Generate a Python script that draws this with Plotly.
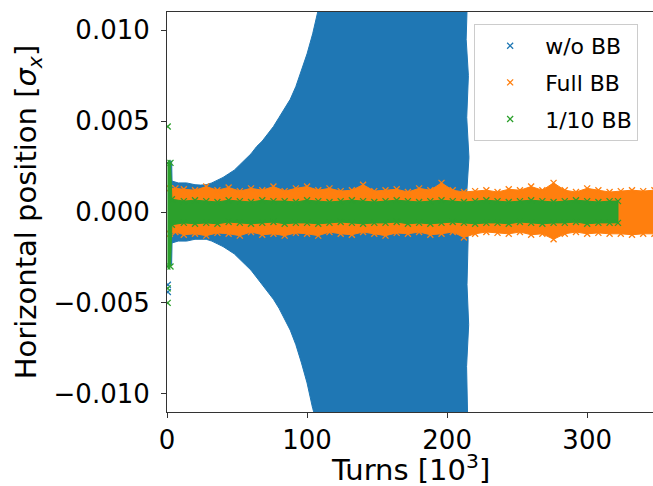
import plotly.graph_objects as go

# ---------------- data ----------------
# x in thousands of turns, y in units of sigma_x (band envelopes)
series_names = ["w/o BB", "Full BB", "1/10 BB"]
series_colors = ["#1f77b4", "#ff7f0e", "#2ca02c"]

blue_turns = [0.8, 3.3, 3.6, 8, 14, 20, 24, 28, 32, 36, 40, 44, 48, 52, 56, 60, 64, 68,
              72, 76, 80, 84, 88, 92, 96, 100, 104, 108]
blue_upper = [0.0028, 0.0028, 0.0017, 0.0016, 0.0016, 0.0015, 0.00148, 0.0015, 0.0016, 0.00175,
              0.0019, 0.0021, 0.0023, 0.0026, 0.0029, 0.0032, 0.0036, 0.0039,
              0.0043, 0.0047, 0.0052, 0.0057, 0.0062, 0.0069, 0.0078, 0.0087, 0.0098, 0.0112]
blue_lower = [-0.0029, -0.0029, -0.0017, -0.0016, -0.0016, -0.0015, -0.00148, -0.0015, -0.0016, -0.00175,
              -0.0019, -0.0021, -0.0023, -0.0026, -0.0029, -0.0032, -0.0036, -0.0040,
              -0.0044, -0.0048, -0.0053, -0.0059, -0.0065, -0.0073, -0.0083, -0.0094, -0.0108, -0.0118]
# ragged right end of the blue band (top to bottom)
blue_edge_turns = [110, 214.5, 213.6, 215.2, 214.0, 215.6, 213.8, 215.0, 214.2, 215.4, 213.9, 214.8]
blue_edge_pos = [0.0118, 0.0118, 0.0095, 0.0075, 0.0052, 0.0030, 0.0008, -0.0015, -0.0040, -0.0062, -0.0085, -0.0118]
blue_extra_turns = [0.6, 0.6]
blue_extra_pos = [-0.0040, -0.0044]

orange_turns = [2, 6, 12, 20, 28, 36, 44, 52, 60, 68, 76, 84, 92, 100,
                108, 116, 124, 132, 140, 148, 156, 164, 172, 180, 188, 196, 204, 212,
                220, 228, 236, 244, 252, 260, 268, 276, 284, 292, 300, 308, 316, 324,
                332, 340, 348]
orange_upper = [0.0013, 0.0013, 0.00125, 0.0012, 0.0014,
                0.0012, 0.00135, 0.00115, 0.0013, 0.0012,
                0.0014, 0.00115, 0.0013, 0.0014, 0.0012,
                0.0013, 0.00115, 0.0012, 0.0015, 0.00115,
                0.0012, 0.00125, 0.0011, 0.0013, 0.0012,
                0.0016, 0.0012, 0.0011, 0.00115, 0.0012,
                0.0011, 0.00125, 0.0012, 0.0014, 0.0012,
                0.0016, 0.0012, 0.0011, 0.0013, 0.0012,
                0.0011, 0.00115, 0.0012, 0.00115, 0.0012]
orange_lower = [-0.0012, -0.0011, -0.00125, -0.0012, -0.0013,
                -0.00115, -0.0012, -0.0013, -0.0011, -0.00125,
                -0.0012, -0.0013, -0.00115, -0.0012, -0.0013,
                -0.0011, -0.0012, -0.00125, -0.0011, -0.0012,
                -0.0013, -0.00115, -0.0012, -0.0011, -0.00125,
                -0.0012, -0.0011, -0.0014, -0.0012, -0.0011,
                -0.00115, -0.0012, -0.0011, -0.00125, -0.0012,
                -0.0015, -0.0012, -0.0011, -0.0012, -0.00115,
                -0.0012, -0.0012, -0.00125, -0.0012, -0.0012]

green_turns = [0.3, 2.5, 3.5, 12, 20, 28, 36, 44, 52, 60, 68, 76, 84, 92, 100,
               108, 116, 124, 132, 140, 148, 156, 164, 172, 180, 188, 196, 204, 212,
               220, 228, 236, 244, 252, 260, 268, 276, 284, 292, 300, 308, 316, 322]
green_upper = [0.0027, 0.0027, 0.0007, 0.0006, 0.00065,
               0.0006, 0.00055, 0.00065, 0.0006, 0.00055,
               0.00065, 0.0006, 0.0006, 0.00055, 0.00065,
               0.0006, 0.00055, 0.0006, 0.00065, 0.0006,
               0.00055, 0.0006, 0.00065, 0.0006, 0.00055,
               0.0006, 0.00065, 0.0006, 0.00055, 0.0006,
               0.00065, 0.0006, 0.00055, 0.0006, 0.00065,
               0.0006, 0.00055, 0.0006, 0.00065, 0.0006,
               0.00055, 0.0006, 0.0006]
green_lower = [-0.0030, -0.0030, -0.0007, -0.0006, -0.00065,
               -0.0006, -0.00065, -0.00055, -0.0006, -0.00065,
               -0.0006, -0.00055, -0.00065, -0.0006, -0.0006,
               -0.00065, -0.0006, -0.00055, -0.0006, -0.00065,
               -0.0006, -0.0006, -0.00055, -0.00065, -0.0006,
               -0.00065, -0.0006, -0.00055, -0.0006, -0.00065,
               -0.0006, -0.0006, -0.00065, -0.00055, -0.0006,
               -0.00065, -0.0006, -0.0006, -0.00055, -0.00065,
               -0.0006, -0.0006, -0.0006]
green_extra_turns = [0.5, 0.5, 0.5]
green_extra_pos = [0.0047, -0.0042, -0.0050]

x_ticks = [0, 100, 200, 300]
y_ticks = [-0.010, -0.005, 0.000, 0.005, 0.010]
y_tick_labels = ["\u22120.010", "\u22120.005", "0.000", "0.005", "0.010"]
x_title = "Turns [10<sup>3</sup>]"
y_title = "Horizontal position [<i>σ<sub>x</sub></i>]"

# ---------------- figure ----------------
FONT = "DejaVu Sans"
fig = go.Figure()

bands = [
    (blue_turns, blue_upper, blue_lower, blue_edge_turns, blue_edge_pos,
     blue_extra_turns, blue_extra_pos, False),
    (orange_turns, orange_upper, orange_lower, [], [], [], [], True),
    (green_turns, green_upper, green_lower, [], [], green_extra_turns, green_extra_pos, True),
]

for i, (t, up, lo, et, ey, ex_t, ex_y, edge_marks) in enumerate(bands):
    color = series_colors[i]
    fig.add_trace(go.Scatter(
        x=t + et + t[::-1], y=up + ey + lo[::-1],
        mode="lines", fill="toself", fillcolor=color,
        line=dict(color=color, width=1),
        showlegend=False, hoverinfo="skip",
    ))
    mx = list(ex_t)
    my = list(ex_y)
    if edge_marks:
        mx += t + t
        my += up + lo
    fig.add_trace(go.Scatter(
        x=mx, y=my, mode="markers", name=series_names[i],
        legendgroup=series_names[i],
        marker=dict(symbol="x-thin", size=6, color=color,
                    line=dict(width=1.3, color=color)),
        hoverinfo="skip",
    ))

fig.update_layout(
    width=653, height=486,
    margin=dict(l=167, r=0, t=12, b=74, autoexpand=False),
    plot_bgcolor="white", paper_bgcolor="white",
    font=dict(family=FONT, size=26, color="black"),
    showlegend=True,
    legend=dict(
        x=0.632, y=0.97, xanchor="left", yanchor="top",
        bgcolor="rgba(255,255,255,0.85)", bordercolor="#cccccc", borderwidth=1,
        font=dict(family=FONT, size=22, color="black"),
        traceorder="grouped", tracegroupgap=5, itemwidth=60,
        entrywidth=160, entrywidthmode="pixels",
    ),
    xaxis=dict(
        automargin=False,
        range=[0, 347], tickvals=x_ticks, ticktext=[str(v) for v in x_ticks],
        ticks="outside", ticklen=5, tickwidth=1, tickcolor="#333",
        showline=True, linecolor="#333", linewidth=1, mirror=True,
        showgrid=False, zeroline=False,
        tickfont=dict(family=FONT, size=26),
    ),
    yaxis=dict(
        automargin=False,
        range=[-0.011, 0.011], tickvals=y_ticks, ticktext=y_tick_labels,
        ticks="outside", ticklen=5, tickwidth=1, tickcolor="#333",
        showline=True, linecolor="#333", linewidth=1, mirror=False,
        showgrid=False, zeroline=False, ticklabelstandoff=6,
        tickfont=dict(family=FONT, size=26),
        title=dict(text=y_title, font=dict(family=FONT, size=29), standoff=8),
    ),
    annotations=[dict(
        text=x_title, xref="paper", yref="paper", x=0.5, y=-0.14,
        xanchor="center", yanchor="middle", showarrow=False,
        font=dict(family=FONT, size=29, color="black"),
    )],
)

fig.write_html(
    "out.html",
    config={"displayModeBar": False},
    post_script="document.body.style.margin='0';document.body.style.overflow='hidden';",
)
